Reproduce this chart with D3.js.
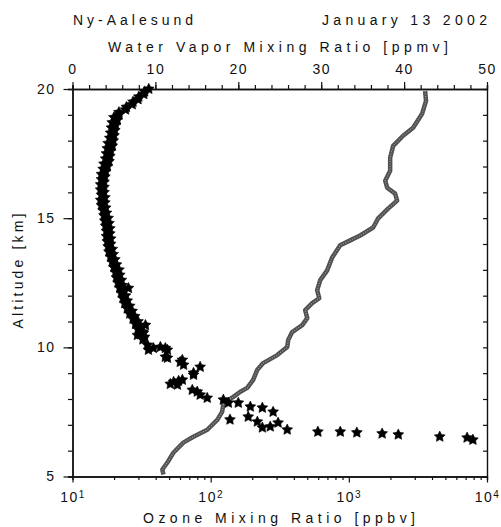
<!DOCTYPE html>
<html>
<head>
<meta charset="utf-8">
<script src="https://cdn.jsdelivr.net/npm/d3@7"></script>
<style>
  body { margin: 0; background: #fff; }
  svg { display: block; font-family: "Liberation Sans", Arial, sans-serif; }
</style>
</head>
<body>
<svg id="chart" width="501" height="527"></svg>
<script>
(function(){
const width = 501;
const height = 527;

// --- Data ---
// ozone profile (grey line), altitude [km] / mixing ratio [ppbv]
const ozoneAlt = [19.92, 19.54, 19.04, 18.50, 18.19, 17.80, 17.34, 16.84, 16.45, 16.18,
  15.95, 15.68, 15.37, 14.99, 14.64, 14.33, 14.14, 13.95, 13.48, 12.98,
  12.60, 12.21, 11.90, 11.71, 11.44, 11.13, 10.86, 10.59, 10.28, 10.01,
  9.70, 9.39, 9.12, 8.74, 8.43, 8.28, 8.08, 7.85, 7.50, 7.20,
  6.81, 6.54, 6.31, 5.92, 5.54, 5.27, 5.08];
const ozonePpbv = [3565, 3620, 3390, 2920, 2470, 2093, 1991, 1991, 1833, 1894,
  2163, 2236, 1924, 1630, 1500, 1208, 1023, 866, 758, 697,
  621, 590, 611, 543, 483, 500, 460, 389, 364, 358,
  303, 240, 217, 203, 184, 164, 146, 124, 121, 112,
  94.6, 75, 63.4, 53.7, 48.6, 44.7, 45.5];

// water vapour (stars), upper profile
const wvAlt = [20.0, 19.9, 19.8, 19.7, 19.6, 19.5, 19.4, 19.3, 19.2, 19.1,
  19.0, 18.9, 18.8, 18.7, 18.6, 18.5, 18.4, 18.3, 18.2, 18.1,
  18.0, 17.9, 17.8, 17.7, 17.6, 17.5, 17.4, 17.3, 17.2, 17.1,
  17.0, 16.9, 16.8, 16.7, 16.6, 16.5, 16.4, 16.3, 16.2, 16.1,
  16.0, 15.9, 15.8, 15.7, 15.6, 15.5, 15.4, 15.3, 15.2, 15.1,
  15.0, 14.9, 14.8, 14.7, 14.6, 14.5, 14.4, 14.3, 14.2, 14.1,
  14.0, 13.9, 13.8, 13.7, 13.6, 13.5, 13.4, 13.3, 13.2, 13.1,
  13.0, 12.9, 12.8, 12.7, 12.6, 12.5, 12.4, 12.3, 12.2, 12.1,
  12.0, 11.9, 11.8, 11.7, 11.6, 11.5, 11.4, 11.3, 11.2, 11.1,
  11.0, 10.9, 10.8, 10.7, 10.6, 10.5, 10.4, 10.3];
const wvPpmv = [9.2, 8.7, 8.6, 8.0, 7.9, 7.3, 7.2, 6.5, 6.4, 5.6,
  5.6, 5.0, 5.4, 4.8, 5.2, 4.7, 5.1, 4.6, 5.0, 4.5,
  4.9, 4.3, 4.8, 4.2, 4.6, 4.1, 4.5, 4.0, 4.4, 3.8,
  4.2, 3.7, 4.0, 3.5, 3.9, 3.5, 3.8, 3.4, 3.8, 3.4,
  3.8, 3.5, 3.9, 3.4, 3.9, 3.5, 4.0, 3.7, 4.1, 3.8,
  4.3, 3.9, 4.4, 4.0, 4.5, 4.1, 4.5, 4.1, 4.6, 4.2,
  4.6, 4.3, 4.8, 4.4, 4.9, 4.6, 5.1, 4.8, 5.3, 5.0,
  5.6, 5.2, 5.7, 5.3, 5.9, 5.5, 6.0, 5.7, 6.2, 5.9,
  6.4, 6.1, 6.6, 6.3, 6.9, 6.6, 7.2, 6.9, 7.5, 7.3,
  7.9, 7.6, 8.2, 7.9, 8.5, 8.2, 8.7, 8.5];

// water vapour (stars), lower scattered part
const wvLowAlt = [12.29, 10.86, 10.55, 10.47, 10.09, 10.01, 9.97, 9.97, 9.90, 9.90,
  9.63, 9.59, 9.51, 9.43, 9.32, 9.24, 9.01, 8.93, 8.74, 8.70,
  8.66, 8.58, 8.55, 8.35, 8.28, 8.16, 8.04, 7.97, 7.85, 7.85,
  7.70, 7.66, 7.50, 7.31, 7.20, 7.12, 7.08, 6.93, 6.89, 6.81,
  6.73, 6.73, 6.70, 6.66, 6.62, 6.54, 6.50, 6.42];
const wvLowPpmv = [6.75, 8.8, 8.55, 7.83, 9.04, 10.6, 9.76, 11.2, 9.16, 11.45,
  11.2, 11.45, 13.25, 13.0, 13.4, 15.4, 14.6, 14.6, 13.25, 12.8,
  12.2, 11.8, 12.65, 14.45, 15.05, 15.4, 16.25, 18.2, 18.8, 20.0,
  21.45, 22.9, 24.2, 21.2, 19.0, 22.3, 24.8, 23.85, 22.9, 25.9,
  29.6, 32.3, 34.3, 37.35, 39.3, 44.3, 47.6, 48.3];

const wvTicks = [0, 10, 20, 30, 40, 50];
const altTicks = [5, 10, 15, 20];
const ozoneTicks = [10, 100, 1000, 10000];

const svg = d3.select("#chart");
const left = 72.5, right = 487, top = 89, bottom = 476.5;

// --- Scales ---
const y = d3.scaleLinear().domain([5, 20]).range([bottom, top]);
const xWv = d3.scaleLinear().domain([0, 50]).range([left, right]);
const xO3 = d3.scaleLog().domain([10, 10000]).range([left, right]);

// --- Axes ---
function styleAxis(g) {
  g.select(".domain").attr("stroke", "#111").attr("stroke-width", 1.4);
  g.selectAll(".tick line").attr("stroke", "#111").attr("stroke-width", 1.2);
  g.selectAll("text").attr("font-size", 14).attr("fill", "#111")
    .attr("font-family", "Liberation Sans, Arial, sans-serif")
    .style("letter-spacing", "1.5px");
}

const minorWv = d3.range(0, 51, 2);
svg.append("g").attr("transform", `translate(0,${top})`)
  .call(d3.axisTop(xWv).tickValues(minorWv).tickSize(4).tickFormat(""))
  .call(styleAxis);
svg.append("g").attr("transform", `translate(0,${top})`)
  .call(d3.axisTop(xWv).tickValues(wvTicks).tickSizeInner(7).tickSizeOuter(0).tickPadding(8))
  .call(styleAxis);

const minorAlt = d3.range(5, 21, 1);
svg.append("g").attr("transform", `translate(${left},0)`)
  .call(d3.axisLeft(y).tickValues(minorAlt).tickSize(4.5).tickFormat(""))
  .call(styleAxis);
svg.append("g").attr("transform", `translate(${left},0)`)
  .call(d3.axisLeft(y).tickValues(altTicks).tickSizeInner(9).tickSizeOuter(0).tickPadding(8))
  .call(styleAxis);

svg.append("g").attr("transform", `translate(${right},0)`)
  .call(d3.axisLeft(y).tickValues(minorAlt).tickSizeInner(4).tickSizeOuter(0).tickFormat(""))
  .call(styleAxis);

const minorO3 = [];
[10, 100, 1000].forEach(d => { for (let k = 2; k <= 9; k++) minorO3.push(d * k); });
svg.append("g").attr("transform", `translate(0,${bottom})`)
  .call(d3.axisBottom(xO3).tickValues(minorO3).tickSize(3.5).tickFormat(""))
  .call(styleAxis);
const bAxis = svg.append("g").attr("transform", `translate(0,${bottom})`)
  .call(d3.axisBottom(xO3).tickValues(ozoneTicks).tickSizeInner(6).tickSizeOuter(0).tickPadding(10))
  .call(styleAxis);
bAxis.selectAll(".tick text").each(function(d) {
  const t = d3.select(this).text("");
  t.append("tspan").text("10");
  t.append("tspan").attr("font-size", 10).attr("dy", "-0.45em")
    .text(Math.round(Math.log10(d)));
});

// --- Ozone line ---
const ozone = ozoneAlt.map((a, i) => ({ alt: a, v: ozonePpbv[i] }));
const line = d3.line().x(d => xO3(d.v)).y(d => y(d.alt));
svg.append("path").datum(ozone)
  .attr("d", line).attr("fill", "none")
  .attr("stroke", "#505050").attr("stroke-width", 4.5)
  .attr("stroke-linejoin", "round");
svg.append("path").datum(ozone)
  .attr("d", line).attr("fill", "none")
  .attr("stroke", "#9a9a9a").attr("stroke-width", 1.3)
  .attr("stroke-dasharray", "1,1.5");

// --- Water vapour stars ---
// chunkier five-point star than d3.symbolStar
const fatStar = {
  draw(ctx, size) {
    const R = Math.sqrt(size) / 2, r = R * 0.5;
    for (let i = 0; i < 10; i++) {
      const a = Math.PI * i / 5, rr = i % 2 ? r : R;
      const px = rr * Math.sin(a), py = -rr * Math.cos(a);
      if (i === 0) ctx.moveTo(px, py); else ctx.lineTo(px, py);
    }
    ctx.closePath();
  }
};
const wv = wvAlt.map((a, i) => ({ alt: a, v: wvPpmv[i] }))
  .concat(wvLowAlt.map((a, i) => ({ alt: a, v: wvLowPpmv[i] })));
const star = d3.symbol().type(fatStar).size(130);
svg.append("g").selectAll("path")
  .data(wv).enter().append("path")
  .attr("d", star)
  .attr("transform", d => `translate(${xWv(d.v)},${y(d.alt)})`)
  .attr("fill", "#000")
  .attr("stroke", "#000").attr("stroke-width", 0.6)
  .attr("stroke-linejoin", "round");

// --- Titles ---
function label(x, yy, txt, len, anchor) {
  return svg.append("text").attr("x", x).attr("y", yy)
    .attr("font-size", 14).attr("fill", "#111")
    .attr("text-anchor", anchor || "start")
    .attr("textLength", len).attr("lengthAdjust", "spacing")
    .text(txt);
}
label(73, 25, "Ny-Aalesund", 120);
label(322, 25, "January 13 2002", 165);
label(108, 52, "Water Vapor Mixing Ratio [ppmv]", 340);
label(143, 523, "Ozone Mixing Ratio [ppbv]", 272);
label(0, 0, "Altitude [km]", 115, "middle")
  .attr("transform", "translate(23,271) rotate(-90)");
})();
</script>
</body>
</html>
